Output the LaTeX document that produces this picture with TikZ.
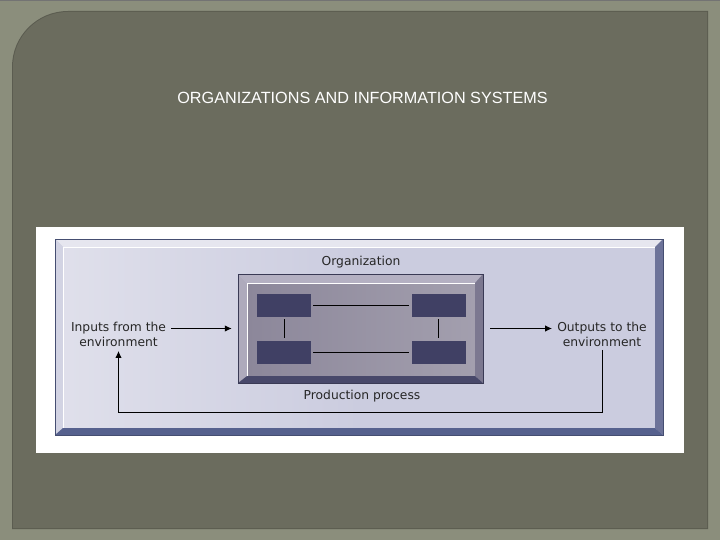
\documentclass[tikz,border=0pt]{standalone}
\usepackage{fontspec}
\newfontfamily\titlefont{Liberation Sans}
\newfontfamily\diagfont{DejaVu Sans}
\usetikzlibrary{arrows.meta}
\definecolor{framegray}{HTML}{8B8E7C}
\definecolor{panelgray}{HTML}{6B6C5E}
\definecolor{boxface}{HTML}{CBCCDF}
\definecolor{bevellight}{HTML}{E6E6EF}
\definecolor{bevelside}{HTML}{D2D3E3}
\definecolor{beveldark}{HTML}{56618E}
\definecolor{bevelright}{HTML}{6D7399}
\definecolor{orgface}{HTML}{8C879A}
\definecolor{orglight}{HTML}{B4B0C2}
\definecolor{orgdark}{HTML}{48486A}
\definecolor{orgright}{HTML}{7C7890}
\definecolor{unitblue}{HTML}{404064}

\begin{document}
\begin{tikzpicture}[x=1pt,y=-1pt,
  label/.style={font=\diagfont\fontsize{12.3}{15}\selectfont,text=black!85,align=center,inner sep=2pt},
  unit/.style={fill=unitblue,minimum width=54pt,minimum height=23pt,inner sep=0pt},
  link/.style={line width=1pt,black,shorten <=2pt,shorten >=2pt},
  flow/.style={line width=1pt,black,-{Latex[length=7pt,width=6.5pt]}}]
\useasboundingbox (0,0) rectangle (720,540);
% slide background
\fill[framegray] (0,0) rectangle (720,540);
\fill[black!55] (0,0) rectangle (720,1.5);
\fill[panelgray!85!black] (12,529) -- (12,300) [rounded corners=56pt] -- (12,11) -- (300,11) [sharp corners] -- (708,11) -- (708,529) -- cycle;
\fill[panelgray] (13,528) -- (13,300) [rounded corners=55pt] -- (13,12) -- (300,12) [sharp corners] -- (707,12) -- (707,528) -- cycle;
\node[font=\titlefont\fontsize{16.2}{19}\selectfont,text=white] (title) at (362.5,98) {ORGANIZATIONS AND INFORMATION SYSTEMS};
% picture
\fill[white] (36,227) rectangle (684,453);
\fill[boxface] (55,239) rectangle (663,435);
\shade[left color=bevellight!75!boxface,right color=boxface] (63,247) rectangle (360,428);
\fill[bevellight] (55,239) -- (663,239) -- (655,247) -- (63,247) -- cycle;
\fill[bevelside] (55,239) -- (63,247) -- (63,428) -- (55,435) -- cycle;
\fill[bevelright] (663,239) -- (663,435) -- (655,428) -- (655,247) -- cycle;
\fill[beveldark] (55,435) -- (663,435) -- (655,428) -- (63,428) -- cycle;
\draw[white,line width=0.8pt] (63,428) -- (63,247) -- (655,247);
\draw[beveldark!80!black,line width=0.6pt] (55,239) rectangle (663,435);
% organization box
\node[inner sep=0pt,minimum width=245pt,minimum height=109pt] (orgbox) at (360.5,328.5) {};
\shade[left color=orgface,right color=orgface!80!white] (247,283) rectangle (475,376);
\fill[orglight] (238,274) -- (483,274) -- (475,283) -- (247,283) -- cycle;
\fill[orglight!85!orgface] (238,274) -- (247,283) -- (247,376) -- (238,383) -- cycle;
\fill[orgright] (483,274) -- (483,383) -- (475,376) -- (475,283) -- cycle;
\fill[orgdark] (238,383) -- (483,383) -- (475,376) -- (247,376) -- cycle;
\draw[white,line width=0.9pt] (247,376) -- (247,283) -- (475,283);
\draw[orgdark!80!black,line width=0.5pt] (238,274) rectangle (483,383);
\node[unit] (ul) at (284,305.5) {};
\node[unit] (ll) at (284,352) {};
\node[unit] (ur) at (438.5,305.5) {};
\node[unit] (lr) at (438.5,352) {};
\draw[link] (ul) -- (ur);
\draw[link] (ll) -- (lr);
\draw[link] (ul) -- (ll);
\draw[link] (ur) -- (lr);
% labels
\node[label] (orglabel) at (361,262) {Organization};
\node[label] (prodlabel) at (362,396) {Production process};
\node[label] (inputs) at (118.5,334.5) {Inputs from the\\environment};
\node[label] (outputs) at (602,334.5) {Outputs to the\\environment};
\coordinate (loop) at (360,412);
% connectors
\draw[flow,shorten <=3pt,shorten >=6pt] (inputs.east |- orgbox.west) -- (orgbox.west);
\draw[flow,shorten <=7pt,shorten >=3pt] (orgbox.east) -- (outputs.west |- orgbox.east);
\draw[flow,shorten <=1pt,shorten >=2pt] (outputs.south) -- (outputs.south |- loop) -| (inputs.south);
\end{tikzpicture}
\end{document}
